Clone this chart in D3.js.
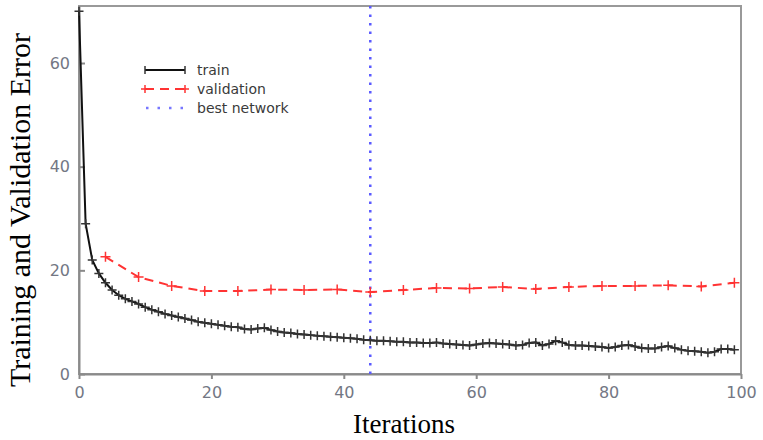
<!DOCTYPE html>
<html lang="en">
<head>
    <meta charset="UTF-8">
    <title>Training and Validation Error</title>
    <script src="https://d3js.org/d3.v7.min.js"></script>
    <style>
        body {
            margin: 0;
            background-color: #ffffff;
        }

        .axis text {
            font-family: 'DejaVu Sans', sans-serif;
            font-size: 16px;
            fill: #737784;
        }

        .axis path,
        .axis line {
            fill: none;
            stroke: #8a8a8a;
            stroke-width: 2;
        }

        .legend text {
            font-family: 'DejaVu Sans', sans-serif;
            font-size: 14px;
            fill: #3a3a3a;
        }

        .title {
            font-family: 'Liberation Serif', 'Times New Roman', serif;
            fill: #000;
        }
    </style>
</head>
<body>
    <svg id="chart"></svg>

    <script>
        // training error, one value per iteration 0..99
        var trainError = [
            70, 29, 22, 19.4, 17.6, 16.2, 15.2, 14.5, 14.0, 13.5,
            12.9, 12.4, 12.0, 11.6, 11.3, 11.0, 10.7, 10.4, 10.1, 9.9,
            9.7, 9.5, 9.3, 9.1, 9.0, 8.7, 8.6, 8.8, 8.9, 8.5,
            8.2, 8.0, 7.9, 7.7, 7.6, 7.5, 7.4, 7.3, 7.2, 7.1,
            7.0, 6.9, 6.8, 6.6, 6.5, 6.4, 6.4, 6.3, 6.2, 6.2,
            6.1, 6.1, 6.0, 6.0, 6.1, 5.9, 5.8, 5.7, 5.6, 5.5,
            5.7, 5.9, 6.0, 5.9, 5.8, 5.7, 5.5, 5.6, 6.0, 6.1,
            5.5, 5.8, 6.4, 6.1, 5.6, 5.5, 5.5, 5.4, 5.3, 5.2,
            5.0, 5.2, 5.5, 5.6, 5.3, 5.0, 4.9, 4.9, 5.2, 5.4,
            5.0, 4.7, 4.5, 4.4, 4.3, 4.1, 4.3, 4.8, 4.8, 4.7
        ];

        // validation error, checked every 5 iterations
        var validationIter = [4, 9, 14, 19, 24, 29, 34, 39, 44, 49, 54, 59, 64, 69, 74, 79, 84, 89, 94, 99];
        var validationError = [22.6, 18.7, 17.0, 16.0, 16.0, 16.3, 16.2, 16.3, 15.8, 16.2,
            16.6, 16.5, 16.8, 16.4, 16.8, 17.0, 17.0, 17.1, 16.9, 17.6];

        var bestIteration = 44;

        var xTicks = [0, 20, 40, 60, 80, 100];
        var yTicks = [0, 20, 40, 60];

        var legendLabels = ["train", "validation", "best network"];

        var W = 763, H = 440;
        var margin = { top: 6, right: 22, bottom: 66, left: 79 },
            width = W - margin.left - margin.right,
            height = H - margin.top - margin.bottom;

        var svg = d3.select("#chart")
            .attr("width", W)
            .attr("height", H);

        var g = svg.append("g")
            .attr("transform", "translate(" + margin.left + "," + margin.top + ")");

        var x = d3.scaleLinear()
            .domain([0, 100])
            .range([0, width]);

        var y = d3.scaleLinear()
            .domain([0, 71])
            .range([height, 0]);

        var train = trainError.map(function (v, i) { return { it: i, val: v }; });
        var validation = validationIter.map(function (it, i) { return { it: it, val: validationError[i] }; });

        // frame
        g.append("rect")
            .attr("x", 0)
            .attr("y", 0)
            .attr("width", width)
            .attr("height", height)
            .style("fill", "none")
            .style("stroke", "#999")
            .style("stroke-width", 2);

        // axes
        g.append("g")
            .attr("class", "axis")
            .attr("transform", "translate(0," + height + ")")
            .call(d3.axisBottom(x).tickValues(xTicks).tickSize(5).tickPadding(8).tickSizeOuter(0));

        g.append("g")
            .attr("class", "axis")
            .call(d3.axisLeft(y).tickValues(yTicks).tickSize(-6).tickPadding(9).tickSizeOuter(0));

        // best network line
        g.append("line")
            .attr("x1", x(bestIteration))
            .attr("x2", x(bestIteration))
            .attr("y1", 0)
            .attr("y2", height)
            .style("stroke", "#5a5aff")
            .style("stroke-width", 2.5)
            .style("stroke-dasharray", "2.5,6");

        function plus(sel, color, size) {
            sel.append("path")
                .attr("d", function (d) {
                    var cx = x(d.it), cy = y(d.val);
                    return "M" + (cx - size) + "," + cy + "H" + (cx + size) +
                        "M" + cx + "," + (cy - size) + "V" + (cy + size);
                })
                .style("stroke", color)
                .style("stroke-width", 1.5)
                .style("fill", "none");
        }

        var line = d3.line()
            .x(function (d) { return x(d.it); })
            .y(function (d) { return y(d.val); });

        // validation
        g.append("path")
            .datum(validation)
            .attr("d", line)
            .style("fill", "none")
            .style("stroke", "#ff3333")
            .style("stroke-width", 2)
            .style("stroke-dasharray", "9,6");

        g.append("g").selectAll("g")
            .data(validation)
            .enter().append("g")
            .call(plus, "#ff3333", 5);

        // train
        g.append("path")
            .datum(train)
            .attr("d", line)
            .style("fill", "none")
            .style("stroke", "#111")
            .style("stroke-width", 2);

        g.append("g").selectAll("g")
            .data(train)
            .enter().append("g")
            .call(plus, "#333", 4.5);

        // legend
        var legend = svg.append("g").attr("class", "legend");
        var legendY = [70, 89, 108];
        var lx1 = 145, lx2 = 185;

        legend.append("line")
            .attr("x1", lx1).attr("x2", lx2).attr("y1", legendY[0]).attr("y2", legendY[0])
            .style("stroke", "#111").style("stroke-width", 2);
        [lx1, lx2].forEach(function (px) {
            legend.append("path")
                .attr("d", "M" + px + "," + (legendY[0] - 4) + "V" + (legendY[0] + 4))
                .style("stroke", "#333").style("stroke-width", 1.5);
        });

        legend.append("line")
            .attr("x1", lx1).attr("x2", lx2).attr("y1", legendY[1]).attr("y2", legendY[1])
            .style("stroke", "#ff3333").style("stroke-width", 2).style("stroke-dasharray", "9,6");
        [lx1, lx2].forEach(function (px) {
            legend.append("path")
                .attr("d", "M" + (px - 4) + "," + legendY[1] + "H" + (px + 4) +
                    "M" + px + "," + (legendY[1] - 4) + "V" + (legendY[1] + 4))
                .style("stroke", "#ff3333").style("stroke-width", 1.5);
        });

        legend.append("line")
            .attr("x1", lx1 + 1).attr("x2", lx2).attr("y1", legendY[2]).attr("y2", legendY[2])
            .style("stroke", "#7777ff").style("stroke-width", 2.5).style("stroke-dasharray", "2.5,9");

        legend.selectAll("text")
            .data(legendLabels)
            .enter().append("text")
            .attr("x", 197)
            .attr("y", function (d, i) { return legendY[i]; })
            .attr("dy", "0.35em")
            .text(function (d) { return d; });

        // axis titles
        svg.append("text")
            .attr("class", "title")
            .attr("text-anchor", "middle")
            .style("font-size", "30px")
            .attr("transform", "translate(30,210) rotate(-90)")
            .text("Training and Validation Error");

        svg.append("text")
            .attr("class", "title")
            .attr("text-anchor", "middle")
            .style("font-size", "27px")
            .attr("x", 404)
            .attr("y", 433)
            .text("Iterations");
    </script>
</body>
</html>
